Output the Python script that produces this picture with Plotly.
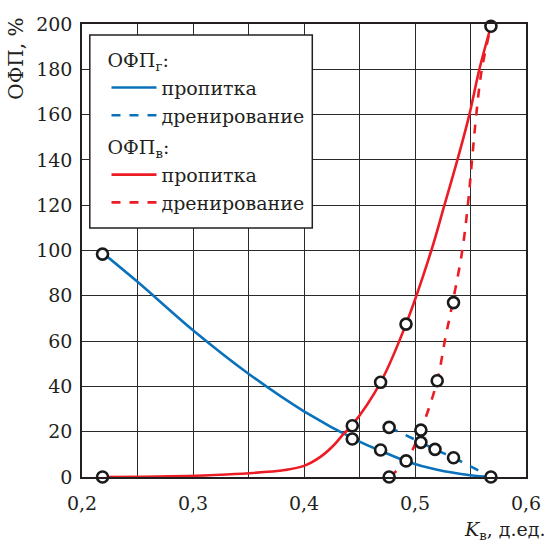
import plotly.graph_objects as go

BLUE = "#0a72bc"
RED = "#ec1c24"

# curves
gas_imb_x = [0.22, 0.25, 0.30, 0.35, 0.40, 0.45, 0.47, 0.492, 0.52, 0.55, 0.5684]
gas_imb_y = [98.4, 86.2, 64.8, 45.6, 29.0, 15.6, 11.4, 7.0, 3.2, 0.8, 0.0]

gas_dr_x = [0.4767, 0.5053, 0.518, 0.5347, 0.5684]
gas_dr_y = [21.9, 15.3, 12.2, 8.5, 0.0]

wat_imb_x = [0.22, 0.28, 0.33, 0.3829, 0.40, 0.4151, 0.4268, 0.4356, 0.4435, 0.469, 0.4919, 0.5147, 0.5265, 0.5382, 0.549, 0.558, 0.5684]
wat_imb_y = [0.0, 0.3, 1.1, 3.1, 4.9, 9.0, 14.0, 19.0, 23.0, 41.8, 67.5, 100.0, 120.0, 140.0, 160.0, 180.0, 199.0]

wat_dr_x = [0.4767, 0.492, 0.5053, 0.52, 0.527, 0.5338, 0.5426, 0.5476, 0.5514, 0.5552, 0.5602, 0.5684]
wat_dr_y = [0.0, 7.1, 20.7, 42.5, 60.5, 76.7, 100.0, 120.0, 140.0, 160.0, 180.0, 199.0]

# measured points (circles)
pts_x = [0.2185, 0.2185, 0.4435, 0.4435, 0.469, 0.469, 0.4767, 0.4767, 0.4919, 0.492,
         0.5053, 0.5053, 0.52, 0.518, 0.5347, 0.5347, 0.5684, 0.5684]
pts_y = [98.4, 0.0, 22.6, 16.8, 41.8, 11.9, 21.9, 0.0, 67.5, 7.1,
         20.7, 15.3, 42.5, 12.2, 77.0, 8.5, 0.0, 199.0]

x_ticks = [0.2, 0.3, 0.4, 0.5, 0.6]
x_ticktext = ["0,2", "0,3", "0,4", "0,5", "0,6"]
y_ticks = [0, 20, 40, 60, 80, 100, 120, 140, 160, 180, 200]

TXT = "#231f20"
FONT = "DejaVu Serif"

W, H = 553, 542
L, R, T, B = 82, 16, 24, 65
PW, PH = W - L - R, H - T - B


def px(xp):
    return (xp - L) / PW


def py(yp):
    return 1 - (yp - T) / PH


fig = go.Figure()
lw = 2.6
fig.add_trace(go.Scatter(x=gas_imb_x, y=gas_imb_y, mode="lines", line=dict(color=BLUE, width=lw, shape="spline"),
                         name="пропитка", legendgroup="g", legendgrouptitle_text="ОФП<sub>г</sub>:"))
fig.add_trace(go.Scatter(x=gas_dr_x, y=gas_dr_y, mode="lines", line=dict(color=BLUE, width=lw, dash="dash", shape="spline"),
                         name="дренирование", legendgroup="g"))
fig.add_trace(go.Scatter(x=wat_imb_x, y=wat_imb_y, mode="lines", line=dict(color=RED, width=lw, shape="spline"),
                         name="пропитка", legendgroup="w", legendgrouptitle_text="ОФП<sub>в</sub>:"))
fig.add_trace(go.Scatter(x=wat_dr_x, y=wat_dr_y, mode="lines", line=dict(color=RED, width=lw, dash="dash", shape="spline"),
                         name="дренирование", legendgroup="w"))
fig.add_trace(go.Scatter(x=pts_x, y=pts_y, mode="markers", showlegend=False, cliponaxis=False,
                         marker=dict(symbol="circle", size=11, color="white", line=dict(color="#1a1a1a", width=2.6))))

fig.update_layout(
    width=W, height=H,
    margin=dict(l=L, r=R, t=T, b=B),
    paper_bgcolor="white", plot_bgcolor="white",
    font=dict(family=FONT, size=19, color=TXT),
    showlegend=True,
    legend=dict(x=px(103), y=py(41), xanchor="left", yanchor="top",
                bgcolor="rgba(0,0,0,0)", borderwidth=0, indentation=4, itemwidth=45,
                traceorder="grouped", tracegroupgap=4,
                font=dict(family=FONT, size=19, color=TXT),
                grouptitlefont=dict(family=FONT, size=19, color=TXT)),
    xaxis=dict(range=[0.2, 0.6], tickvals=x_ticks, ticktext=x_ticktext,
               showgrid=True, gridcolor="#2a2a2a", gridwidth=1,
               minor=dict(dtick=0.05, tick0=0.2, showgrid=True, gridcolor="#2a2a2a", gridwidth=1),
               showline=True, linecolor=TXT, linewidth=1.5, mirror=True,
               ticks="outside", ticklen=8, tickcolor="rgba(0,0,0,0)", zeroline=False),
    yaxis=dict(range=[0, 200], tickvals=y_ticks,
               showgrid=True, gridcolor="#2a2a2a", gridwidth=1,
               showline=True, linecolor=TXT, linewidth=1.5, mirror=True,
               ticks="outside", ticklen=4, tickcolor="rgba(0,0,0,0)", zeroline=False),
    shapes=[dict(type="rect", xref="paper", yref="paper", x0=px(90), x1=px(318), y0=py(228), y1=py(35),
                 line=dict(color=TXT, width=1.5), fillcolor="white", layer="above")],
    annotations=[
        dict(text="ОФП, %", textangle=-90, xref="paper", yref="paper", x=px(14), y=py(59),
             xanchor="center", yanchor="middle", showarrow=False, font=dict(family=FONT, size=20)),
        dict(text="<i>K</i><sub>в</sub>, д.ед.", xref="paper", yref="paper", x=px(560), y=py(530),
             xanchor="right", yanchor="middle", showarrow=False, font=dict(family=FONT, size=19)),
    ],
)

fig.write_html("out.html")
